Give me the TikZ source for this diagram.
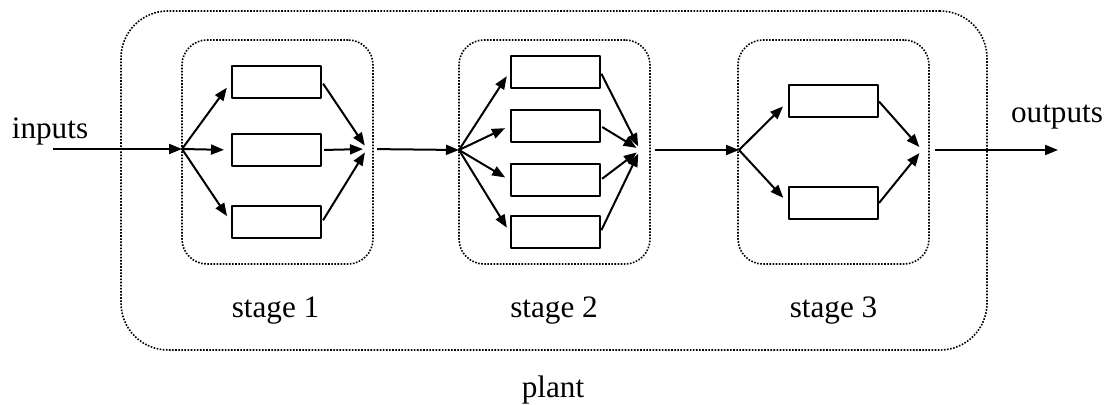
\documentclass[tikz,border=0pt]{standalone}
\usepackage{fontspec}
\setmainfont{Liberation Serif}
\usepackage{tikz}
\usetikzlibrary{positioning}
\usetikzlibrary{arrows.meta}
\tikzset{
  blk/.style={draw,line width=1pt,minimum width=44.5pt,minimum height=16pt,inner sep=0pt},
  stageframe/.style={draw,line width=0.8pt,dash pattern=on 0.8pt off 0.75pt,rounded corners=12.5pt,inner sep=0pt,minimum width=95.5pt,minimum height=112pt},
  flow/.style={->,line width=1pt},
  lbl/.style={anchor=base,inner sep=0pt}
}
\begin{document}
\begin{tikzpicture}[x=0.5pt,y=-0.5pt,line join=round,>={Triangle[length=6.5pt,width=5pt]},font=\fontsize{15.6pt}{18pt}\selectfont]
\useasboundingbox (0,0) rectangle (1111,405);
\node[stageframe,rounded corners=23.5pt,minimum width=433pt,minimum height=169.5pt] (plant) at (554,180.5) {};
\node[stageframe] (st1) at (277.5,152) {};
\node[stageframe] (st2) at (554.5,152) {};
\node[stageframe] (st3) at (833.5,152) {};
\node[lbl] (lab1) at (275.5,317) {stage 1};
\node[lbl] (lab2) at (554,317) {stage 2};
\node[lbl] (lab3) at (833.5,317) {stage 3};
\node[lbl] (labp) at (553,397) {plant};
\node[lbl] (inlab) at (50,139) {inputs};
\node[lbl] (outlab) at (1057,123) {outputs};
\node[blk] (a1) at (276.5,82) {};
\node[blk] (a2) at (276.5,150) {};
\node[blk] (a3) at (276.5,222) {};
\node[blk] (b1) at (555,72) {};
\node[blk] (b2) at (555,126) {};
\node[blk] (b3) at (555,180) {};
\node[blk] (b4) at (555,232) {};
\node[blk] (c1) at (833.5,101.5) {};
\node[blk] (c2) at (833.5,203) {};
\coordinate (src) at (53,149);
\coordinate (sp1) at (182,149);
\coordinate (mg1) at (367,149);
\coordinate (sp2) at (459,150);
\coordinate (mg2) at (640,150);
\coordinate (sp3) at (739,150);
\coordinate (mg3) at (922,150);
\coordinate (snk) at (1058,150);
\draw[flow] (src) -- (sp1);
\foreach \b in {a1,a2,a3} \draw[flow,shorten >=3.5pt] (sp1) -- (\b.west);
\foreach \b in {a1,a2,a3} \draw[flow,shorten <=1pt,shorten >=2pt] (\b.east) -- (mg1);
\draw[flow,shorten <=5pt] (mg1) -- (sp2);
\foreach \b in {b1,b2,b3,b4} \draw[flow,shorten >=2.5pt] (sp2) -- (\b.west);
\foreach \b in {b1,b2,b3,b4} \draw[flow,shorten <=1pt,shorten >=2pt] (\b.east) -- (mg2);
\draw[flow,shorten <=7.5pt] (mg2) -- (sp3);
\foreach \b in {c1,c2} \draw[flow,shorten >=3.5pt] (sp3) -- (\b.west);
\foreach \b in {c1,c2} \draw[flow,shorten >=2pt] (\b.east) -- (mg3);
\draw[flow,shorten <=6.5pt] (mg3) -- (snk);
\end{tikzpicture}
\end{document}
